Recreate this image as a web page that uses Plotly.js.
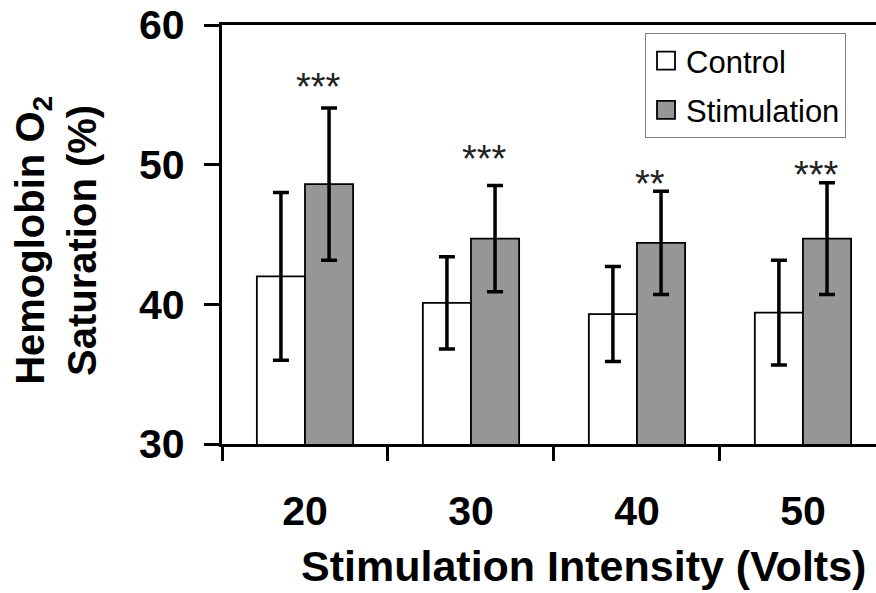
<!DOCTYPE html>
<html>
<head>
<meta charset="utf-8">
<script src="https://cdn.plot.ly/plotly-3.0.1.min.js"></script>
<style>
  html, body { margin: 0; padding: 0; background: #fff; }
  #chart { width: 876px; height: 593px; }
</style>
</head>
<body>
<div id="chart"></div>
<script>
// ---- data ----
const categories = ['20', '30', '40', '50'];
const controlMean = [42.0, 40.1, 39.3, 39.4];
const controlErr  = [6.0, 3.3, 3.4, 3.75];
const stimMean    = [48.6, 44.7, 44.4, 44.7];
const stimErr     = [5.45, 3.8, 3.7, 4.0];
const starLabels  = ['***', '***', '**', '***'];
const starLevel   = [56.3, 51.1, 49.3, 50.0];
const yTicks      = [30, 40, 50, 60];

const FONT = 'Arial, "Liberation Sans", Helvetica, sans-serif';

const traces = [
  {
    type: 'bar', name: 'Control', x: categories, y: controlMean,
    legendgroup: 'c',
    marker: { color: '#ffffff', line: { color: '#000000', width: 1.8 } },
    error_y: { type: 'data', array: controlErr, visible: true, color: '#000000', thickness: 3.5, width: 8 }
  },
  {
    type: 'bar', name: 'Stimulation', x: categories, y: stimMean,
    legendgroup: 's',
    marker: { color: '#969696', line: { color: '#000000', width: 1.8 } },
    error_y: { type: 'data', array: stimErr, visible: true, color: '#000000', thickness: 3.5, width: 8 }
  }
];

const annotations = categories.map((c, i) => ({
  x: i + 0.08, y: starLevel[i], xref: 'x', yref: 'y',
  text: starLabels[i], showarrow: false,
  xanchor: 'center', yanchor: 'middle', yshift: -10,
  font: { family: FONT, size: 38, color: '#222222' }
}));

annotations.push({
  xref: 'paper', yref: 'paper', x: 0.5535, y: -0.29,
  xanchor: 'center', yanchor: 'middle', showarrow: false,
  text: 'Stimulation Intensity (Volts)',
  font: { family: FONT, size: 43, color: '#000000', weight: 'bold' }
});
annotations.push({
  xref: 'paper', yref: 'paper', x: -0.254, y: 0.487,
  xanchor: 'center', yanchor: 'middle', showarrow: false, textangle: -90,
  text: 'Hemoglobin O<sub>2</sub><br>Saturation (%)',
  font: { family: FONT, size: 40, color: '#000000', weight: 'bold' }
});

const layout = {
  width: 876, height: 593,
  margin: { l: 222, r: 0, t: 25, b: 149, pad: 0 },
  paper_bgcolor: '#ffffff', plot_bgcolor: '#ffffff',
  font: { family: FONT, color: '#000000' },
  barmode: 'group', bargap: 0.42, bargroupgap: 0,
  showlegend: true,
  legend: {
    x: 0.6468, y: 0.981, xanchor: 'left', yanchor: 'top',
    bgcolor: '#ffffff', bordercolor: '#808080', borderwidth: 1,
    font: { family: FONT, size: 31, color: '#000000' },
    traceorder: 'grouped', tracegroupgap: 6
  },
  xaxis: {
    type: 'category', range: [-0.5, 3.44],
    showline: true, linecolor: '#000000', linewidth: 3.3, mirror: true,
    ticks: 'outside', tickson: 'boundaries', ticklen: 14, tickwidth: 3, tickcolor: '#000000',
    showgrid: false, zeroline: false,
    tickfont: { family: FONT, size: 41, color: '#000000', weight: 'bold' },
    ticklabelstandoff: 28
  },
  yaxis: {
    range: [30, 60], tickvals: yTicks, ticktext: yTicks.map(String),
    showline: true, linecolor: '#000000', linewidth: 3.3, mirror: false,
    ticks: 'outside', ticklen: 15, tickwidth: 3, tickcolor: '#000000',
    showgrid: false, zeroline: false,
    tickfont: { family: FONT, size: 41, color: '#000000', weight: 'bold' },
    ticklabelstandoff: 11
  },
  annotations: annotations
};

Plotly.newPlot('chart', traces, layout, { displayModeBar: false, staticPlot: true }).then(() => {
  document.querySelectorAll('.legend .legendpoints path').forEach(p => {
    p.setAttribute('d', 'M9,9H-9V-9H9Z');
  });
});
</script>
</body>
</html>
